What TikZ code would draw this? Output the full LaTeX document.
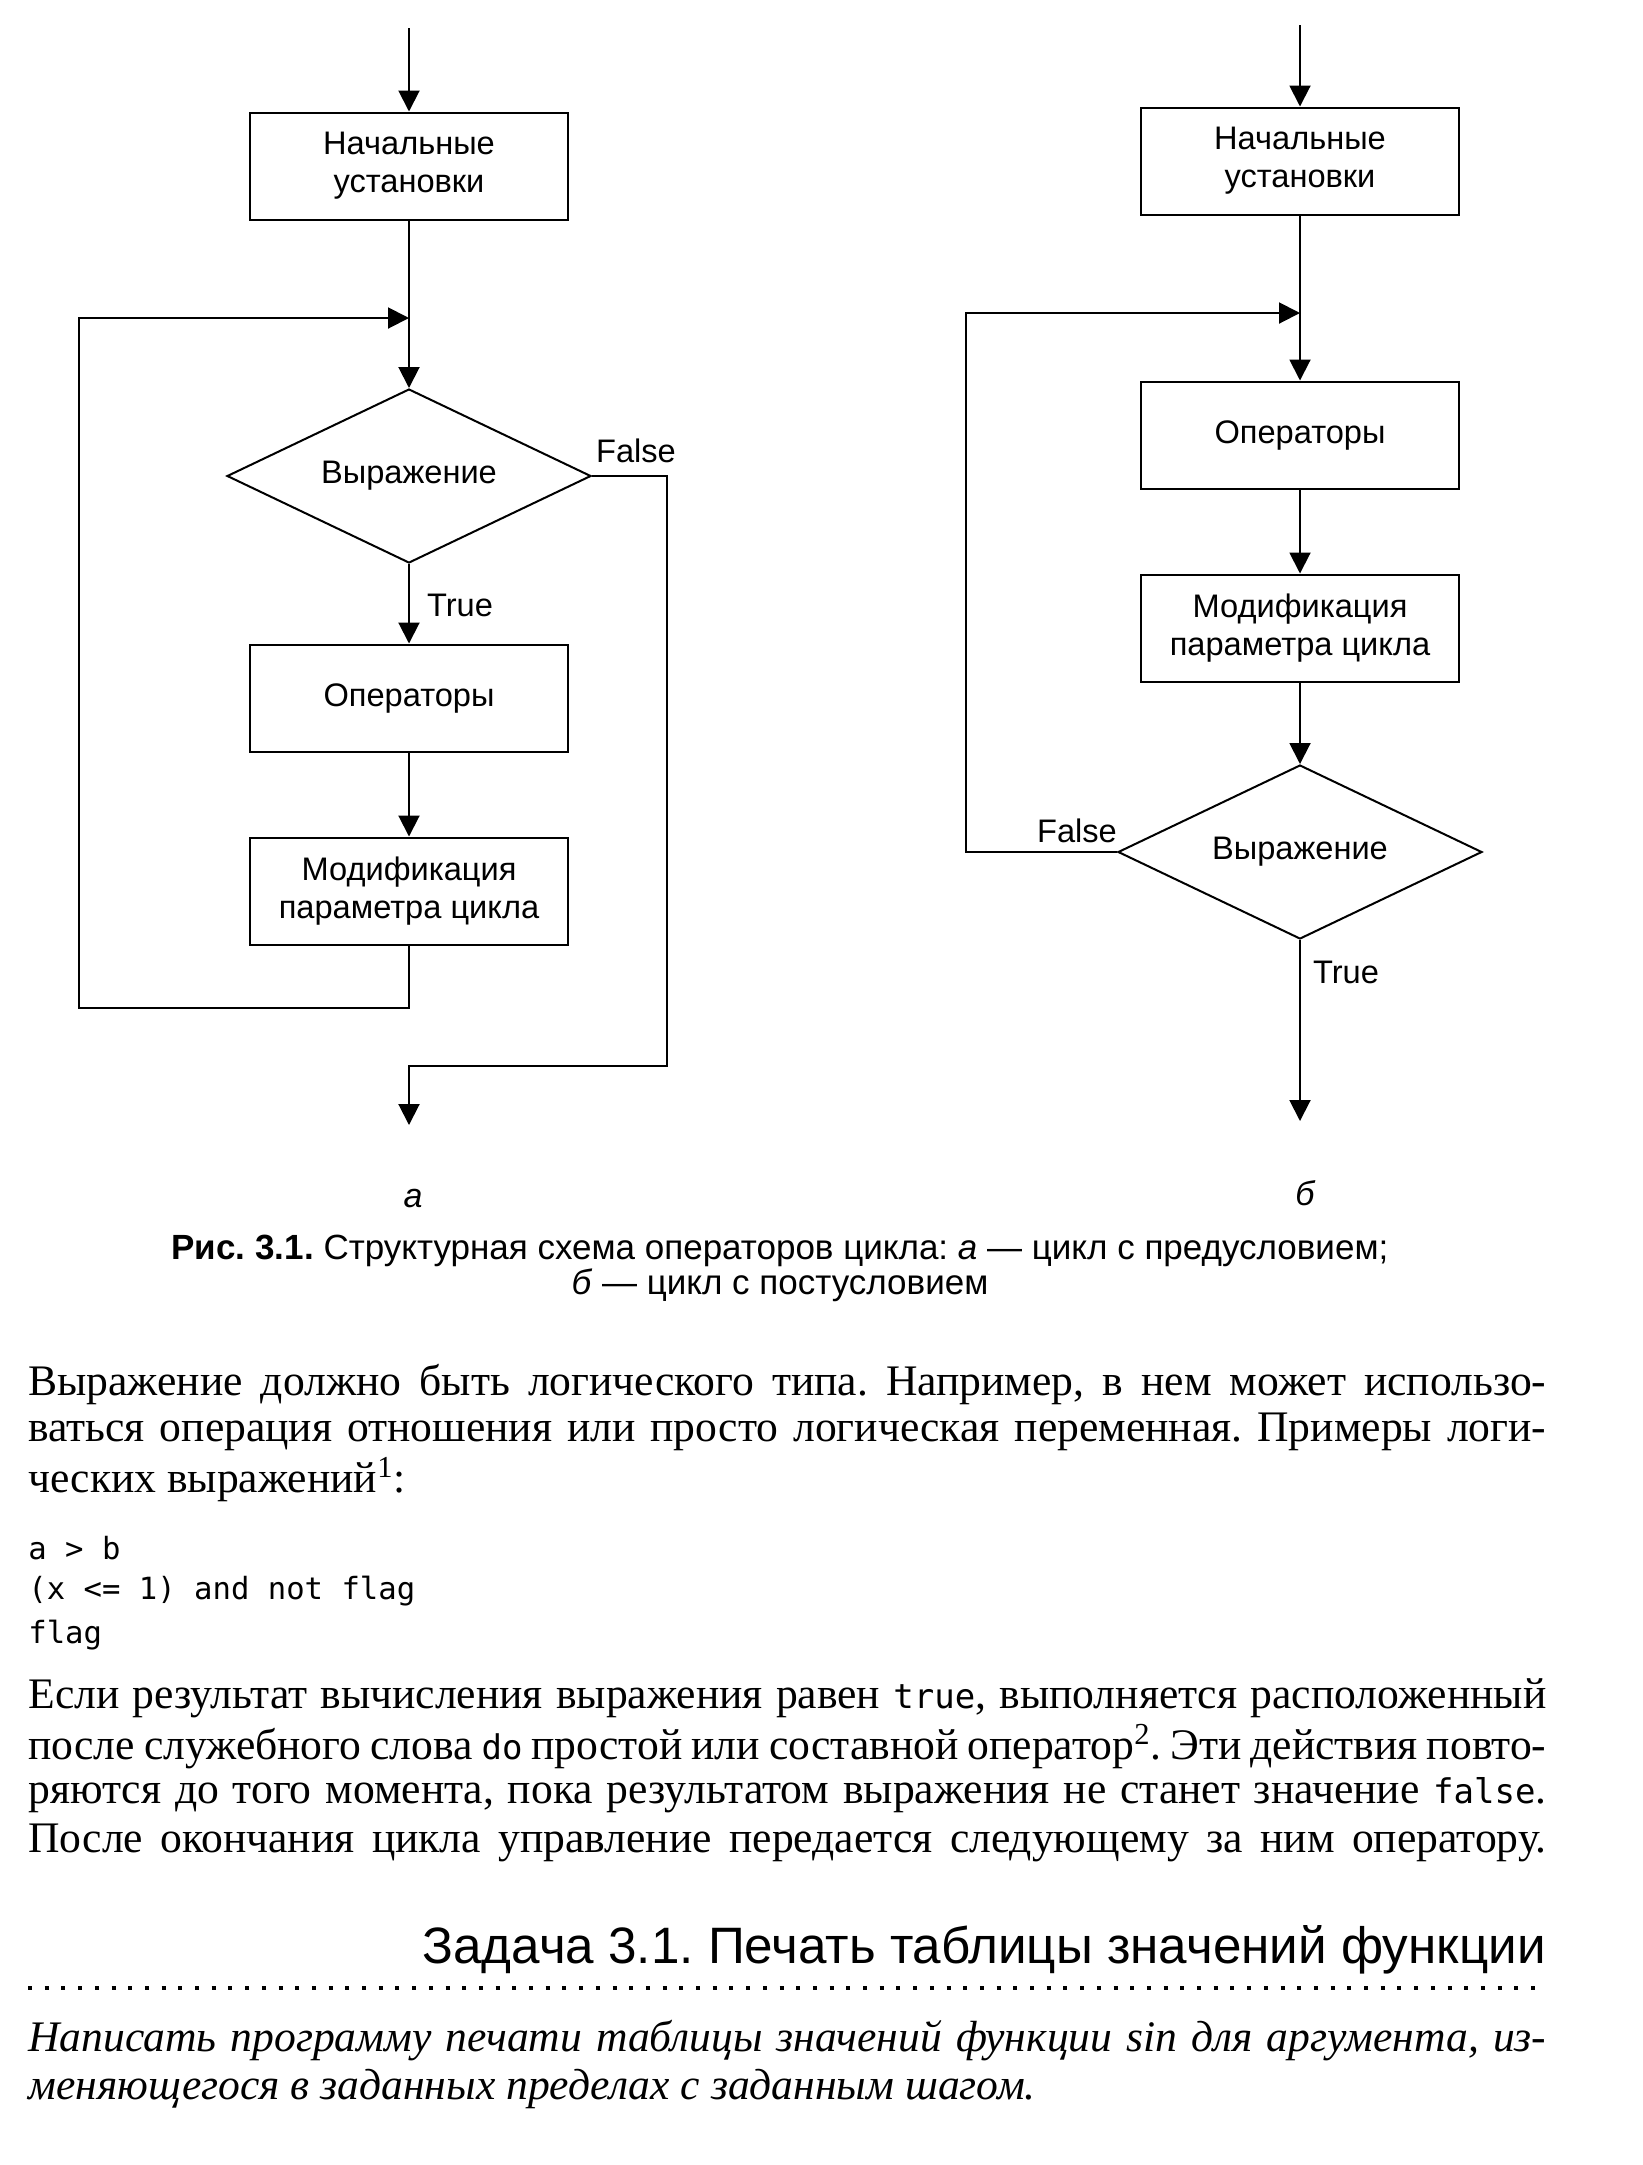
\documentclass[tikz,border=0pt]{standalone}
\usepackage{fontspec}
\setmainfont{Liberation Serif}
\setsansfont{Liberation Sans}
\setmonofont{DejaVu Sans Mono}
\usetikzlibrary{shapes.geometric,arrows.meta}
\frenchspacing

\newcommand\blocktext{\sffamily\fontsize{16.3}{19}\selectfont}
\newcommand\bodytext{\rmfamily\fontsize{21.8}{24}\selectfont}
\newcommand\codetext{\ttfamily\fontsize{15.3}{18}\selectfont}
\newcommand\fullline[1]{\makebox[759pt][s]{#1}}
\newcommand\kw[1]{{\ttfamily\fontsize{17}{20}\selectfont #1}}

\begin{document}
\begin{tikzpicture}[x=0.5pt,y=-0.5pt,
    block/.style={draw,line width=1pt,minimum width=159pt,minimum height=53.5pt,
      inner sep=2pt,align=center,font=\blocktext},
    test/.style={draw,line width=1pt,diamond,aspect=2.1,minimum width=182pt,
      minimum height=87pt,inner sep=0pt,font=\blocktext},
    flow/.style={line width=1pt,-{Triangle[width=10.5pt,length=10.5pt]}},
    tag/.style={font=\blocktext,inner sep=1pt},
    bodyline/.style={anchor=west,inner sep=0pt,font=\bodytext},
    codeline/.style={anchor=west,inner sep=0pt,font=\codetext}]
  \useasboundingbox (0,0) rectangle (1643,2165);

  % a: loop with precondition
  \coordinate (aTop) at (409,28);
  \node[block] (aInit) at (409,166) {Начальные\\установки};
  \coordinate (aJoin) at (409,318);
  \node[test] (aCond) at (409,476) {Выражение};
  \node[block] (aOps) at (409,698) {Операторы};
  \node[block] (aMod) at (409,891) {Модификация\\параметра цикла};
  \coordinate (aBack) at (79,1008);
  \coordinate (aFalse) at (667,1066);
  \coordinate (aExit) at (409,1125);
  \draw[flow] (aTop) -- (aInit);
  \draw[flow] (aInit) -- (aCond);
  \draw[flow] (aCond) -- (aOps);
  \draw[flow] (aOps) -- (aMod);
  \draw[flow] (aMod.south) |- (aBack) |- (aJoin);
  \draw[flow] (aCond.east) -| (aFalse) -| (aExit);
  \node[tag] at (636,451) {False};
  \node[tag] at (460,605) {True};
  \node[font=\sffamily\itshape\fontsize{17}{20}\selectfont] (aName) at (413,1198) {а};

  % b: loop with postcondition
  \coordinate (bTop) at (1300,25);
  \node[block] (bInit) at (1300,161) {Начальные\\установки};
  \coordinate (bJoin) at (1300,313);
  \node[block] (bOps) at (1300,435) {Операторы};
  \node[block] (bMod) at (1300,628) {Модификация\\параметра цикла};
  \node[test] (bCond) at (1300,852) {Выражение};
  \coordinate (bBack) at (966,313);
  \coordinate (bExit) at (1300,1121);
  \draw[flow] (bTop) -- (bInit);
  \draw[flow] (bInit) -- (bOps);
  \draw[flow] (bOps) -- (bMod);
  \draw[flow] (bMod) -- (bCond);
  \draw[flow] (bCond) -- (bExit);
  \draw[flow] (bCond.west) -| (bBack) -- (bJoin);
  \node[tag] at (1077,831) {False};
  \node[tag] at (1346,972) {True};
  \node[font=\sffamily\itshape\fontsize{17}{20}\selectfont] (bName) at (1305,1193) {б};

  % caption
  \node[align=center,font=\sffamily\fontsize{17.5}{17.5}\selectfont] (caption) at (780,1268)
    {\textbf{Рис. 3.1.} Структурная схема операторов цикла: \textit{а} — цикл с предусловием;\\
     \textit{б} — цикл с постусловием};

  % text
  \node[bodyline] (p1a) at (28,1385) {\fullline{Выражение должно быть логического типа. Например, в нем может использо-}};
  \node[bodyline] (p1b) at (28,1432) {\fullline{ваться операция отношения или просто логическая переменная. Примеры логи-}};
  \node[bodyline] (p1c) at (28,1480) {ческих выражений\textsuperscript{1}:};
  \node[codeline] (c1) at (28,1548) {a > b};
  \node[codeline] (c2) at (28,1591) {(x <= 1) and not flag};
  \node[codeline] (c3) at (28,1635) {flag};
  \node[bodyline] (p2a) at (28,1698) {\fullline{Если результат вычисления выражения равен \kw{true}, выполняется расположенный}};
  \node[bodyline] (p2b) at (28,1747) {\fullline{после служебного слова \kw{do} простой или составной оператор\textsuperscript{2}. Эти действия повто-}};
  \node[bodyline] (p2c) at (28,1795) {\fullline{ряются до того момента, пока результатом выражения не станет значение \kw{false}.}};
  \node[bodyline] (p2d) at (28,1843) {\fullline{После окончания цикла управление передается следующему за ним оператору.}};

  % task
  \node[anchor=east,inner sep=0pt,font=\sffamily\fontsize{25.6}{30}\selectfont] (task) at (1546,1950)
    {Задача 3.1. Печать таблицы значений функции};
  \draw[line width=2pt,dash pattern=on 2pt off 6.35pt] (28,1988) -- (1546,1988);
  \node[bodyline,font=\bodytext\itshape] (t1) at (28,2041) {\fullline{Написать программу печати таблицы значений функции sin для аргумента, из-}};
  \node[bodyline,font=\bodytext\itshape] (t2) at (28,2089) {меняющегося в заданных пределах с заданным шагом.};
\end{tikzpicture}
\end{document}
